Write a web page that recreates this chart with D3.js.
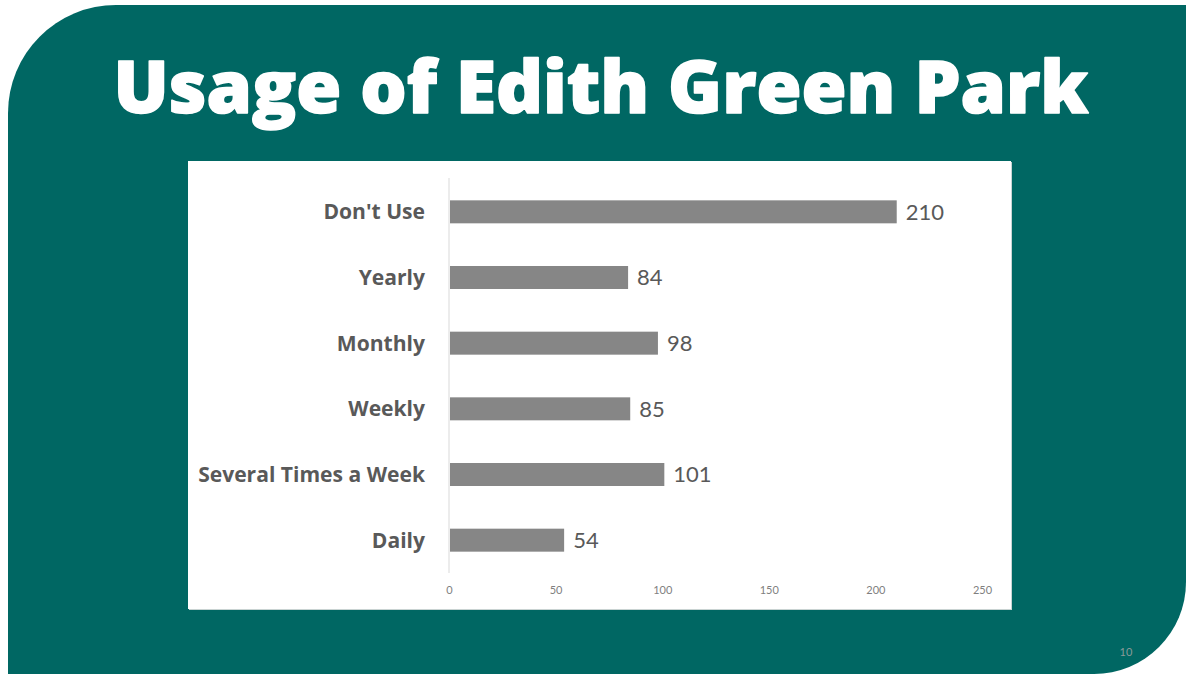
<!DOCTYPE html>
<html><head><meta charset="utf-8">
<script src="https://cdn.jsdelivr.net/npm/d3@7"></script>
<style>html,body{margin:0;padding:0;background:#fff;}svg{display:block;}</style>
</head><body>
<svg id="c" width="1186" height="674"></svg>
<script>
const categories = ["Don't Use", "Yearly", "Monthly", "Weekly", "Several Times a Week", "Daily"];
const values = [210, 84, 98, 85, 101, 54];
const tickValues = [0, 50, 100, 150, 200, 250];
const titleText = "Usage of Edith Green Park";
const pageNumber = "10";

const svg = d3.select("#c");
const teal = "#006763";

// background slide shape
const L = 8, T = 5, R = 1186, B = 674, r1 = 108, r2 = 92;
svg.append("path")
  .attr("d", `M${L},${B} L${L},${T + r1} A${r1},${r1} 0 0 1 ${L + r1},${T} L${R},${T} L${R},${B - r2} A${r2},${r2} 0 0 1 ${R - r2},${B} Z`)
  .attr("fill", teal);

// title
const title = svg.append("text")
  .attr("x", 601).attr("y", 113)
  .attr("text-anchor", "middle")
  .attr("fill", "#fff")
  .attr("stroke", "#fff").attr("stroke-width", 1.6).attr("stroke-linejoin", "round")
  .attr("font-family", "'Open Sans', sans-serif")
  .attr("font-weight", 800)
  .attr("font-size", 74)
  .text(titleText);
const tw = title.node().getComputedTextLength();
title.attr("font-size", 74 * 975 / tw);

// chart box
svg.append("rect").attr("x", 189).attr("y", 162).attr("width", 823).attr("height", 448).attr("fill", "#c9d3d2");
svg.append("rect").attr("x", 188).attr("y", 161).attr("width", 823).attr("height", 448).attr("fill", "#fff");

const x = d3.scaleLinear().domain([0, 250]).range([449, 982]);
const y = d3.scaleBand().domain(categories).range([179, 573]).paddingInner(0.65).paddingOuter(0.325);

// axis line
svg.append("line").attr("x1", x(0)).attr("x2", x(0)).attr("y1", 178).attr("y2", 573)
  .attr("stroke", "#d9d9d9").attr("stroke-width", 1);

// bars
svg.selectAll("rect.bar").data(values).enter().append("rect")
  .attr("class", "bar")
  .attr("x", x(0) + 1)
  .attr("y", (d, i) => y(categories[i]))
  .attr("width", d => x(d) - x(0) - 1)
  .attr("height", y.bandwidth())
  .attr("fill", "#868686");

// value labels
svg.selectAll("text.val").data(values).enter().append("text")
  .attr("class", "val")
  .attr("x", d => x(d) + 9)
  .attr("y", (d, i) => y(categories[i]) + y.bandwidth() / 2)
  .attr("dy", "0.36em")
  .attr("fill", "#595959")
  .attr("font-family", "Lato, 'Open Sans', sans-serif")
  .attr("font-size", 22)
  .text(d => d);

// category labels
const yAxis = d3.axisLeft(y).tickSize(0).tickPadding(0);
const gy = svg.append("g").attr("transform", "translate(425,0)").call(yAxis);
gy.select(".domain").remove();
const catText = gy.selectAll("text")
  .attr("fill", "#595959")
  .attr("font-family", "'Open Sans', sans-serif")
  .attr("font-weight", 700)
  .attr("font-size", 20)
  .attr("dy", "0.36em");
let maxW = 0;
catText.each(function() { maxW = Math.max(maxW, this.getComputedTextLength()); });
catText.attr("font-size", 20 * 227 / maxW);

// x axis tick labels
const xAxis = d3.axisBottom(x).tickValues(tickValues).tickSize(0).tickPadding(0);
const gx = svg.append("g").attr("transform", "translate(0,586)").call(xAxis);
gx.select(".domain").remove();
gx.selectAll("text")
  .attr("fill", "#7f7f7f")
  .attr("font-family", "Lato, 'Open Sans', sans-serif")
  .attr("font-size", 11);

// page number
svg.append("text").attr("x", 1126).attr("y", 656).attr("text-anchor", "middle")
  .attr("fill", "#8a9a98").attr("font-family", "Lato, sans-serif").attr("font-size", 11)
  .text(pageNumber);
</script>
</body></html>
